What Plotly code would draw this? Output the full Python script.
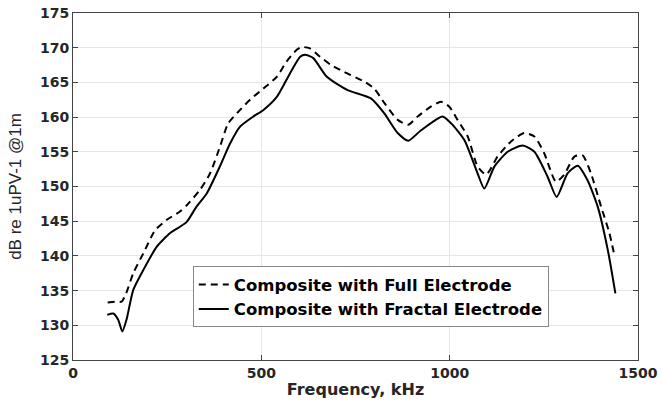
import plotly.graph_objects as go

# Composite with Full Electrode (dashed)
full_freq = [92, 111, 129, 141, 160, 187, 218, 249, 284, 302, 337, 364, 390, 412, 443, 470,
             505, 541, 567, 594, 607, 629, 656, 685, 720, 774, 800, 827, 862, 890, 915, 950,
             977, 999, 1021, 1048, 1074, 1097, 1127, 1163, 1198, 1225, 1251, 1282, 1304,
             1331, 1353, 1375, 1402, 1424, 1438]
full_db = [133.3, 133.4, 133.4, 134.6, 137.5, 140.4, 143.7, 145.2, 146.4, 147.3, 149.5, 151.9,
           155.7, 159.1, 161.0, 162.5, 164.1, 165.8, 168.0, 169.7, 170.1, 169.9, 168.7, 167.5,
           166.5, 165.1, 164.1, 162.0, 159.6, 158.9, 160.1, 161.5, 162.2, 161.5, 159.6, 157.2,
           152.9, 151.7, 154.3, 156.5, 157.7, 157.2, 154.8, 150.7, 151.7, 154.3, 154.5, 151.9,
           147.1, 143.3, 139.9]

# Composite with Fractal Electrode (solid)
frac_freq = [91, 107, 120, 131, 142, 160, 187, 222, 258, 284, 302, 328, 355, 390, 417, 443,
             479, 505, 541, 576, 603, 616, 638, 674, 729, 791, 827, 862, 890, 924, 981, 1004,
             1039, 1074, 1092, 1119, 1154, 1194, 1225, 1260, 1284, 1313, 1340, 1366, 1393,
             1420, 1440]
frac_db = [131.5, 131.7, 130.8, 129.1, 130.8, 135.1, 138.0, 141.3, 143.3, 144.2, 144.9, 147.1,
           149.0, 152.9, 156.2, 158.6, 160.1, 161.0, 162.9, 166.3, 168.7, 169.0, 168.5, 165.8,
           163.9, 162.7, 160.5, 157.7, 156.6, 158.1, 160.1, 159.1, 156.7, 151.9, 149.7, 152.9,
           155.0, 155.9, 155.0, 151.4, 148.5, 151.9, 153.0, 150.9, 147.1, 140.8, 134.6]

x_ticks = [0, 500, 1000, 1500]
y_ticks = [125, 130, 135, 140, 145, 150, 155, 160, 165, 170, 175]

txt = "#262626"

fig = go.Figure()
fig.add_trace(go.Scatter(x=full_freq, y=full_db, mode="lines",
                         name="Composite with Full Electrode",
                         line=dict(color="black", width=2, dash="7px,5px", shape="spline", smoothing=0.6)))
fig.add_trace(go.Scatter(x=frac_freq, y=frac_db, mode="lines",
                         name="Composite with Fractal Electrode",
                         line=dict(color="black", width=2, shape="spline", smoothing=0.6)))

axis_common = dict(showline=True, linecolor="#444", linewidth=1, mirror="ticks",
                   ticks="inside", ticklen=5, tickcolor="#444", automargin=False,
                   gridcolor="#e6e6e6", gridwidth=1, zeroline=False,
                   tickfont=dict(family="DejaVu Sans", size=14, color=txt, weight="bold"))

fig.update_layout(
    width=662, height=405,
    margin=dict(l=73, r=24, t=13, b=45),
    paper_bgcolor="white", plot_bgcolor="white",
    showlegend=True,
    legend=dict(x=0.212, y=0.27, xanchor="left", yanchor="top",
                bgcolor="white", bordercolor="#888", borderwidth=1,
                font=dict(family="DejaVu Sans", size=16.5, color="black", weight="bold"),
                tracegroupgap=0, itemwidth=30),
)
fig.update_xaxes(range=[0, 1500], tickvals=x_ticks, **axis_common,
                 title=dict(text="Frequency, kHz", standoff=4,
                            font=dict(family="DejaVu Sans", size=16, color=txt, weight="bold")))
fig.update_yaxes(range=[125, 175], tickvals=y_ticks, **axis_common,
                 title=dict(text="dB re 1uPV-1 @1m", standoff=14,
                            font=dict(family="Liberation Sans", size=17, color=txt)))

fig.write_html("out.html", config={"displayModeBar": False},
               post_script="document.body.style.margin='0';")
